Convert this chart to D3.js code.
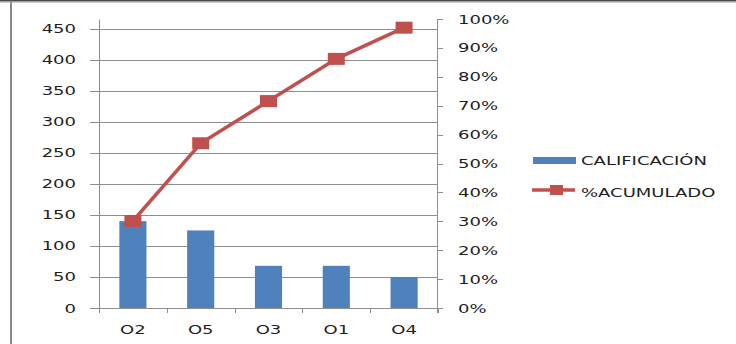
<!DOCTYPE html>
<html>
<head>
<meta charset="utf-8">
<script src="https://cdn.jsdelivr.net/npm/d3@7/dist/d3.min.js"></script>
<style>
  html, body { margin: 0; padding: 0; background: #fff; }
  svg { display: block; }
  text { font-family: "DejaVu Sans", Verdana, sans-serif; fill: #1e1e1e; }
</style>
</head>
<body>
<svg id="chart" width="736" height="344"></svg>
<script>
// Pareto data: score per item and the cumulative share
const categories = ["O2", "O5", "O3", "O1", "O4"];
const calificacion = [140, 125, 68, 68, 50];
const acumulado = [0.301, 0.570, 0.716, 0.862, 0.970];
const leftTicks = [0, 50, 100, 150, 200, 250, 300, 350, 400, 450];
const rightTicks = [0, 0.1, 0.2, 0.3, 0.4, 0.5, 0.6, 0.7, 0.8, 0.9, 1.0];
const seriesNames = ["CALIFICACIÓN", "%ACUMULADO"];

const BLUE = "#4F81BD", RED = "#C0504D", GRID = "#8e8e8e";
const SX = 1.43;     // wide glyph proportion used for all labels
const FS = 12.6;

const svg = d3.select("#chart");

const x = d3.scaleBand().domain(categories).range([99, 438]).paddingInner(0.6).paddingOuter(0.3);
const xPos = d3.scalePoint().domain(categories).range([99, 438]).padding(0.5);
const yL = d3.scaleLinear().domain([0, 465]).range([308, 19.5]);
const yR = d3.scaleLinear().domain([0, 1]).range([308, 19]);

// frame
svg.append("rect").attr("x", 0).attr("y", 0).attr("width", 736).attr("height", 1.5).attr("fill", "#4a4a4a");
svg.append("rect").attr("x", 0).attr("y", 1.5).attr("width", 736).attr("height", 1).attr("fill", "#9a9a9a");
svg.append("rect").attr("x", 10).attr("y", 2).attr("width", 2).attr("height", 342).attr("fill", "#8a8a8a");

// stretched text helper
function label(g, tx, ty, str, anchor) {
  return g.append("text")
    .attr("transform", `translate(${tx},${ty}) scale(${SX},1)`)
    .attr("text-anchor", anchor)
    .style("font-size", FS + "px")
    .text(str);
}

// gridlines
svg.append("g").selectAll("line").data(leftTicks.filter(d => d > 0)).join("line")
  .attr("x1", 99).attr("x2", 438)
  .attr("y1", d => Math.round(yL(d)) + 0.5).attr("y2", d => Math.round(yL(d)) + 0.5)
  .attr("stroke", GRID).attr("stroke-width", 1);

// bars
svg.append("g").selectAll("rect").data(categories).join("rect")
  .attr("x", d => x(d)).attr("width", x.bandwidth())
  .attr("y", (d, i) => yL(calificacion[i]))
  .attr("height", (d, i) => yL(0) - yL(calificacion[i]))
  .attr("fill", BLUE);

// left axis
const axL = svg.append("g");
axL.append("line").attr("x1", 99.5).attr("x2", 99.5).attr("y1", 19.5).attr("y2", 313).attr("stroke", GRID);
axL.selectAll("line.t").data(leftTicks).join("line").attr("class", "t")
  .attr("x1", 90).attr("x2", 99)
  .attr("y1", d => Math.round(yL(d)) + 0.5).attr("y2", d => Math.round(yL(d)) + 0.5)
  .attr("stroke", GRID);
leftTicks.forEach(d => label(axL, 76, yL(d) + 4.5, d3.format("d")(d), "end"));

// bottom axis
const axB = svg.append("g");
axB.append("line").attr("x1", 90).attr("x2", 438).attr("y1", 308.5).attr("y2", 308.5).attr("stroke", GRID);
const edges = categories.map(c => x(c) - x.step() * 0.3).concat([438]);
axB.selectAll("line.t").data(edges).join("line").attr("class", "t")
  .attr("x1", d => Math.round(d) + 0.5).attr("x2", d => Math.round(d) + 0.5)
  .attr("y1", 308).attr("y2", 313).attr("stroke", GRID);
categories.forEach(c => label(axB, xPos(c), 334, c, "middle"));

// right axis
const axR = svg.append("g");
axR.append("line").attr("x1", 437.5).attr("x2", 437.5).attr("y1", 19).attr("y2", 313).attr("stroke", GRID);
axR.selectAll("line.t").data(rightTicks).join("line").attr("class", "t")
  .attr("x1", 438).attr("x2", 443)
  .attr("y1", d => Math.round(yR(d)) + 0.5).attr("y2", d => Math.round(yR(d)) + 0.5)
  .attr("stroke", GRID);
rightTicks.forEach(d => label(axR, 458, yR(d) + 4.5, d3.format(".0%")(d), "start"));

// cumulative line with square markers
const line = d3.line().x((d, i) => xPos(categories[i])).y(d => yR(d));
svg.append("path").datum(acumulado).attr("d", line)
  .attr("fill", "none").attr("stroke", RED).attr("stroke-width", 3.5);
svg.append("g").selectAll("rect").data(acumulado).join("rect")
  .attr("x", (d, i) => xPos(categories[i]) - 8.5).attr("width", 17)
  .attr("y", d => yR(d) - 6).attr("height", 12)
  .attr("fill", RED);

// legend
const lg = svg.append("g");
lg.append("rect").attr("x", 533).attr("y", 157).attr("width", 43).attr("height", 7).attr("fill", BLUE);
label(lg, 581, 165, seriesNames[0], "start");
lg.append("line").attr("x1", 532).attr("x2", 575).attr("y1", 190).attr("y2", 190)
  .attr("stroke", RED).attr("stroke-width", 3.5);
lg.append("rect").attr("x", 550).attr("y", 185).attr("width", 13).attr("height", 10).attr("fill", RED);
label(lg, 581, 196.5, seriesNames[1], "start");
</script>
</body>
</html>
